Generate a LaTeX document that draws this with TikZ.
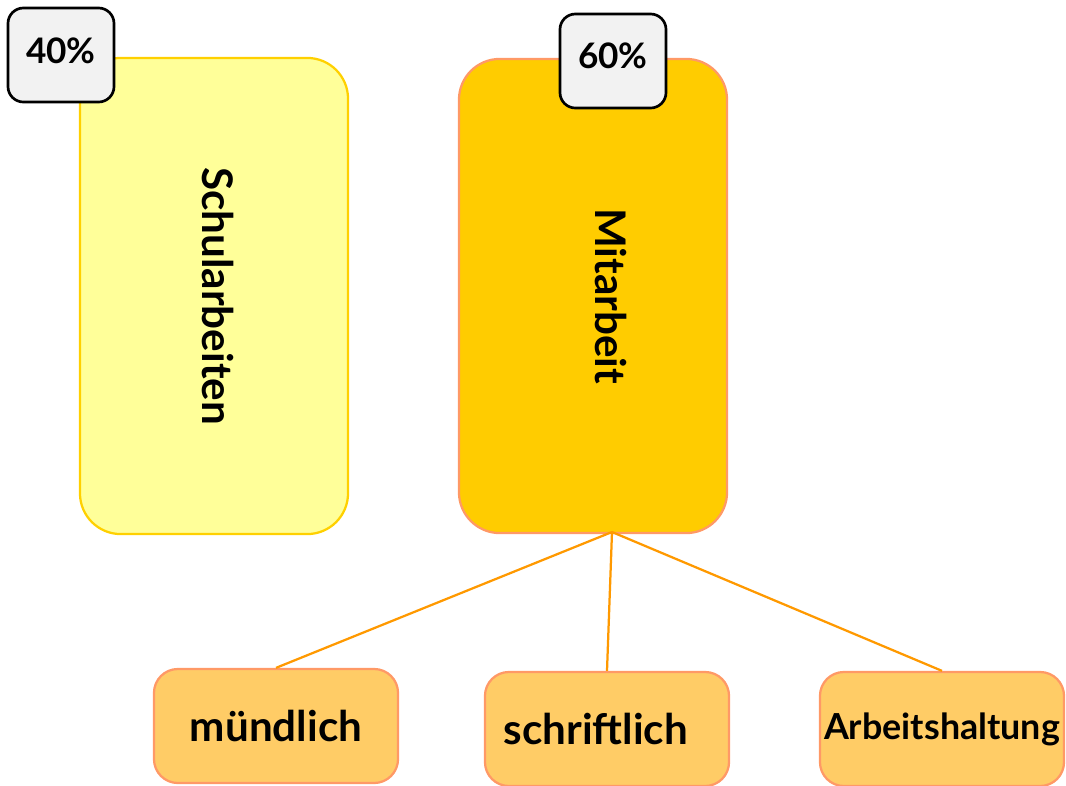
\documentclass[tikz,border=0pt]{standalone}
\usepackage{fontspec}
\setmainfont{Lato}
\usetikzlibrary{positioning}
\definecolor{schulfill}{HTML}{FFFF99}
\definecolor{schuldraw}{HTML}{FFD000}
\definecolor{mitfill}{HTML}{FFCC00}
\definecolor{mitdraw}{HTML}{FF9966}
\definecolor{subfill}{HTML}{FFCC66}
\definecolor{badgefill}{HTML}{F2F2F2}
\definecolor{linkcol}{HTML}{FF9900}
\newcommand{\lift}[2]{\raisebox{#1}[\height][\depth]{#2}}
\tikzset{
  part/.style={rectangle, rounded corners=29pt, line width=1.6pt, inner sep=0pt,
    rotate=-90, minimum height=6.7cm, font=\bfseries\fontsize{30}{34}\selectfont},
  badge/.style={rectangle, rounded corners=11pt, line width=1.9pt, draw=black,
    fill=badgefill, inner sep=0pt, minimum width=2.65cm, minimum height=2.35cm,
    font=\bfseries\fontsize{25}{28}\selectfont},
  sub/.style={rectangle, rounded corners=17pt, line width=1.6pt, draw=mitdraw,
    fill=subfill, inner sep=0pt, minimum width=6.1cm, minimum height=2.85cm,
    font=\bfseries\fontsize{30}{34}\selectfont},
  link/.style={draw=linkcol, line width=1.6pt}
}

\begin{document}
\begin{tikzpicture}[x=0.025cm, y=-0.025cm]
      \useasboundingbox (0,0) rectangle (1066,785);
      % main parts
      \node[part, draw=schuldraw, fill=schulfill, minimum width=11.9cm] (Schul) at (214,296) {\lift{3pt}{Schularbeiten}};
      \node[part, draw=mitdraw, fill=mitfill, minimum width=11.85cm] (Mit) at (593,296) {\lift{13pt}{Mitarbeit}};
      \node[badge] (P40) at (61,55) {\lift{3pt}{40\%}};
      \node[badge] (P60) at (613,61) {\lift{4pt}{60\%}};
      % parts of Mitarbeit
      \node[sub] (Muend) at (276,726) {mündlich};
      \node[sub] (Schrift) at (607,729) {\hspace*{-16pt}schriftlich};
      \node[sub, font=\bfseries\fontsize{25.5}{30}\selectfont] (Haltung) at (942,729) {Arbeitshaltung};
      \coordinate (hub) at (612,532);
      \path[link] (hub) -- (Muend.north)
                  (hub) -- (Schrift.north)
                  (hub) -- (Haltung.north);
\end{tikzpicture}
\end{document}
